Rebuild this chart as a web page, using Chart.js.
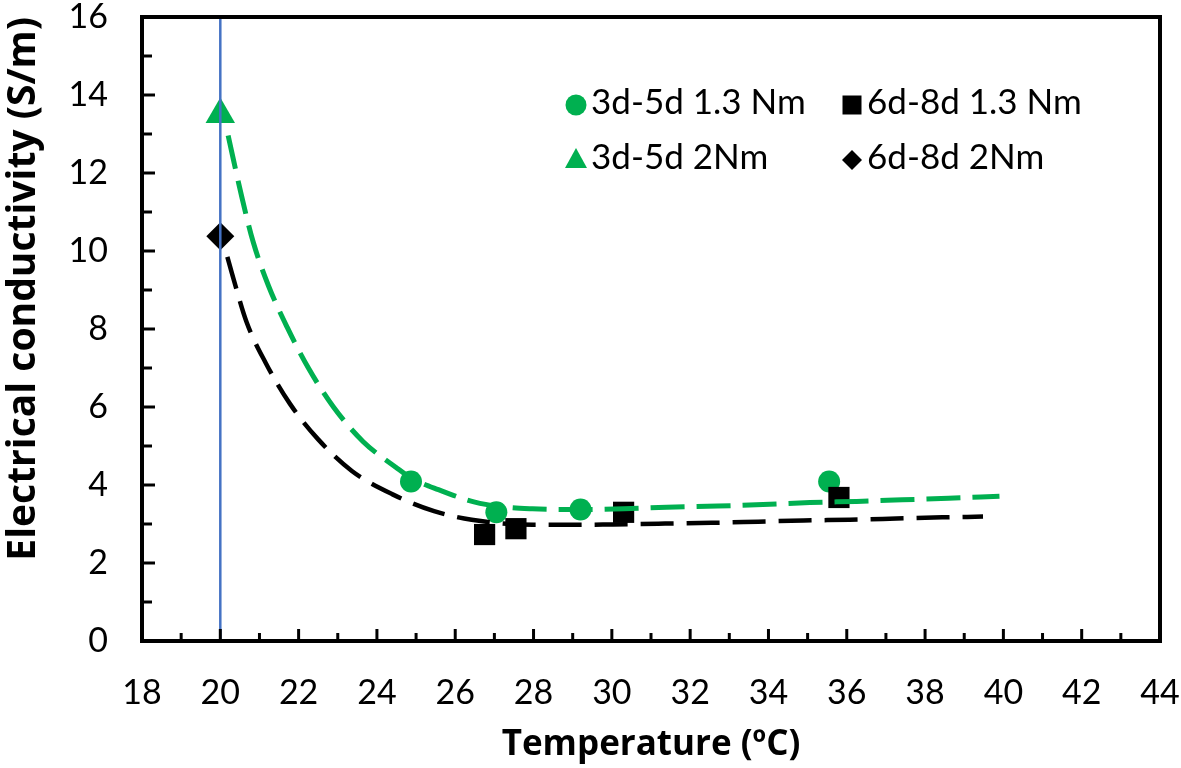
<!DOCTYPE html>
<html>
<head>
<meta charset="utf-8">
<script src="https://cdn.jsdelivr.net/npm/chart.js@4/dist/chart.umd.min.js"></script>
<style>
  html, body { margin: 0; padding: 0; background: #fff; }
</style>
</head>
<body>
<canvas id="ecChart" width="1181" height="768"></canvas>
<script>
// measured samples
const green13X = [24.87, 27.05, 29.2, 35.55];
const green13Y = [4.09, 3.3, 3.37, 4.09];
const green2X = [20];
const green2Y = [13.5];
const black13X = [26.75, 27.55, 30.3, 35.8];
const black13Y = [2.73, 2.88, 3.3, 3.68];
const black2X = [20];
const black2Y = [10.38];

// trend curves
const greenFitX = [20.2, 20.55, 20.84, 21.23, 21.71, 22.25, 22.89, 23.65, 24.49, 24.87, 25.57, 26.63, 27.97, 29.11, 30.31, 31.4, 32.7, 33.86, 35.06, 36.25, 37.42, 38.6, 39.9];
const greenFitY = [12.96, 11.38, 10.23, 9.11, 8.04, 7.0, 6.0, 5.11, 4.45, 4.18, 3.88, 3.53, 3.39, 3.37, 3.39, 3.43, 3.46, 3.5, 3.55, 3.58, 3.62, 3.66, 3.71];
const blackFitX = [20.18, 20.33, 20.67, 21.16, 21.78, 22.5, 23.36, 24.4, 25.46, 26.42, 28.0, 29.0, 30.03, 31.36, 32.55, 33.74, 34.9, 36.08, 37.27, 38.44, 39.48];
const blackFitY = [9.85, 9.31, 8.18, 7.13, 6.08, 5.17, 4.36, 3.76, 3.33, 3.11, 2.98, 2.98, 2.99, 3.01, 3.03, 3.06, 3.09, 3.11, 3.14, 3.17, 3.19];

// vertical line at 20 °C
const refLineX = [20, 20];
const refLineY = [0, 16];

const seriesNames = ['3d-5d 1.3 Nm', '6d-8d 1.3 Nm', '3d-5d 2Nm', '6d-8d 2Nm'];

const green = '#00B050';
const pts = (xs, ys) => xs.map((x, i) => ({ x: x, y: ys[i] }));

// legend inside the plot, Excel style
const boxLegend = {
  id: 'boxLegend',
  afterDraw(chart) {
    const ctx = chart.ctx;
    const items = [
      { name: seriesNames[0], shape: 'circle', color: green, mx: 576, my: 105, tx: 591, ty: 103 },
      { name: seriesNames[1], shape: 'square', color: '#000', mx: 852, my: 105, tx: 867, ty: 103 },
      { name: seriesNames[2], shape: 'triangle', color: green, mx: 576, my: 160, tx: 591, ty: 158 },
      { name: seriesNames[3], shape: 'diamond', color: '#000', mx: 852, my: 160, tx: 867, ty: 158 }
    ];
    ctx.save();
    ctx.font = '35px Lato';
    ctx.textBaseline = 'middle';
    ctx.textAlign = 'left';
    items.forEach(it => {
      ctx.fillStyle = it.color;
      ctx.beginPath();
      if (it.shape === 'circle') {
        ctx.arc(it.mx, it.my, 10.5, 0, Math.PI * 2);
      } else if (it.shape === 'square') {
        ctx.rect(it.mx - 9.5, it.my - 9.5, 19, 19);
      } else if (it.shape === 'triangle') {
        ctx.moveTo(it.mx, it.my - 12);
        ctx.lineTo(it.mx + 11, it.my + 8);
        ctx.lineTo(it.mx - 11, it.my + 8);
        ctx.closePath();
      } else {
        ctx.moveTo(it.mx, it.my - 10);
        ctx.lineTo(it.mx + 10, it.my);
        ctx.lineTo(it.mx, it.my + 10);
        ctx.lineTo(it.mx - 10, it.my);
        ctx.closePath();
      }
      ctx.fill();
      ctx.fillStyle = '#000';
      ctx.fillText(it.name, it.tx, it.ty);
    });
    ctx.restore();
  }
};

// frame + inward tick marks
const frameTicks = {
  id: 'frameTicks',
  afterDraw(chart) {
    const ctx = chart.ctx;
    const a = chart.chartArea;
    const xs = chart.scales.x, ys = chart.scales.y;
    ctx.save();
    ctx.strokeStyle = '#000';
    ctx.lineWidth = 3;
    for (let v = 19; v < 44; v++) {
      const px = xs.getPixelForValue(v);
      const len = v % 2 === 0 ? 12 : 8;
      ctx.beginPath();
      ctx.moveTo(px, a.bottom);
      ctx.lineTo(px, a.bottom - len);
      ctx.stroke();
    }
    for (let v = 1; v < 16; v++) {
      const py = ys.getPixelForValue(v);
      const len = v % 2 === 0 ? 13 : 10;
      ctx.beginPath();
      ctx.moveTo(a.left, py);
      ctx.lineTo(a.left + len, py);
      ctx.stroke();
    }
    ctx.lineWidth = 4;
    ctx.strokeRect(a.left, a.top, a.right - a.left, a.bottom - a.top);
    ctx.restore();
  }
};

new Chart(document.getElementById('ecChart'), {
  type: 'scatter',
  data: {
    datasets: [
      {
        label: 'ref', data: pts(refLineX, refLineY), showLine: true,
        borderColor: '#4472C4', borderWidth: 2.5, pointRadius: 0
      },
      {
        label: 'fit 3d-5d', data: pts(greenFitX, greenFitY), showLine: true,
        borderColor: green, borderWidth: 5, borderDash: [34, 12], pointRadius: 0,
        cubicInterpolationMode: 'monotone'
      },
      {
        label: 'fit 6d-8d', data: pts(blackFitX, blackFitY), showLine: true,
        borderColor: '#000', borderWidth: 4.5, borderDash: [33, 13], pointRadius: 0,
        cubicInterpolationMode: 'monotone'
      },
      {
        label: seriesNames[1], data: pts(black13X, black13Y),
        pointStyle: 'rect', pointRadius: 15, backgroundColor: '#000', borderWidth: 0
      },
      {
        label: seriesNames[3], data: pts(black2X, black2Y),
        pointStyle: 'rectRot', pointRadius: 14, backgroundColor: '#000', borderWidth: 0
      },
      {
        label: seriesNames[0], data: pts(green13X, green13Y),
        pointStyle: 'circle', pointRadius: 11, backgroundColor: green, borderWidth: 0
      },
      {
        label: seriesNames[2], data: pts(green2X, green2Y),
        pointStyle: 'triangle', pointRadius: 17, backgroundColor: green, borderWidth: 0
      }
    ]
  },
  options: {
    responsive: false,
    animation: false,
    layout: { padding: { top: 14, right: 21, left: 0, bottom: 0 } },
    plugins: {
      legend: { display: false },
      tooltip: { enabled: false }
    },
    scales: {
      x: {
        type: 'linear', min: 18, max: 44,
        grid: { display: false, drawTicks: false },
        border: { display: false },
        ticks: { stepSize: 2, color: '#000', padding: 32, font: { family: 'Lato', size: 34 } },
        title: {
          display: true, text: 'Temperature (ºC)', color: '#000',
          font: { family: 'Open Sans', size: 35, weight: 'bold' },
          padding: { top: 0, bottom: 2 }
        },
        afterFit: s => { s.height = 127; s.paddingLeft = 0; s.paddingRight = 0; }
      },
      y: {
        min: 0, max: 16,
        grid: { display: false, drawTicks: false },
        border: { display: false },
        ticks: { stepSize: 2, color: '#000', padding: 34, font: { family: 'Lato', size: 34, lineHeight: 0.8 } },
        title: {
          display: true, text: 'Electrical conductivity (S/m)', color: '#000', align: 'end',
          font: { family: 'Open Sans', size: 39, weight: 'bold' },
          padding: { top: 0, bottom: 0 }
        },
        afterFit: s => { s.width = 142; s.paddingTop = 0; s.paddingBottom = 0; }
      }
    }
  },
  plugins: [boxLegend, frameTicks]
});
</script>
</body>
</html>
